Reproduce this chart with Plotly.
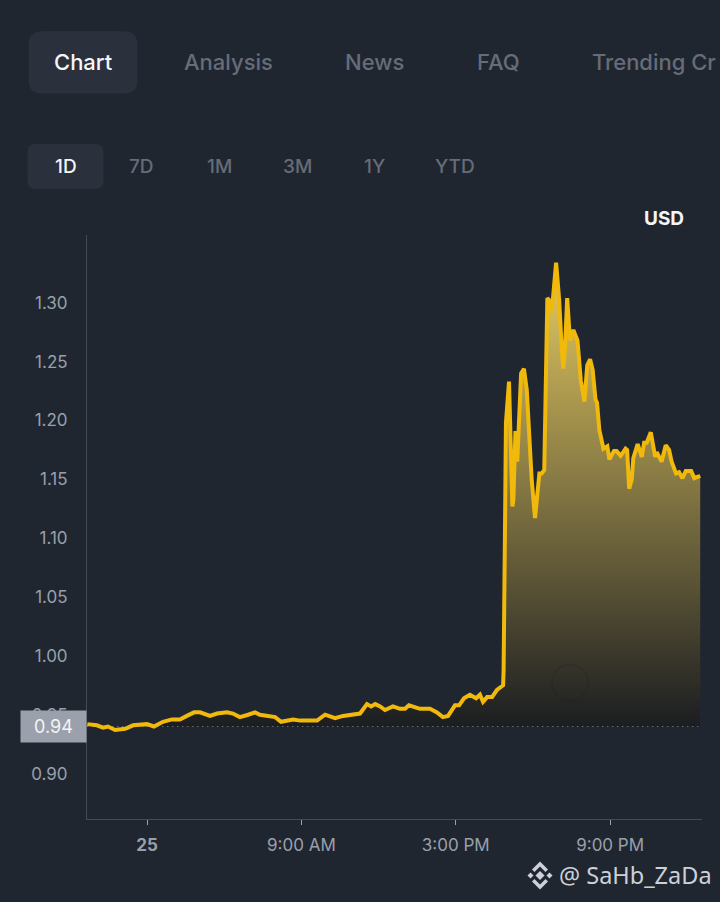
import numpy as np
import plotly.graph_objects as go

W, H = 720, 902
L, R, T, B = 87, 702, 235, 819.5
BG = '#202630'
PILL = '#2a303c'
LINE = '#f0b90b'
AXIS = '#444a56'
MUTED = '#666c78'
TICK = '#9aa0ab'

tabs = ['Chart', 'Analysis', 'News', 'FAQ', 'Trending Cr']
tab_x = [83, 228, 374, 498, 590]
ranges = ['1D', '7D', '1M', '3M', '1Y', 'YTD']
range_x = [66, 141, 219, 297, 374, 455]

y_ticks = [0.90, 0.95, 1.00, 1.05, 1.10, 1.15, 1.20, 1.25, 1.30]
x_ticks = [3, 9, 15, 21]
x_labels = ['<b>25</b>', '9:00 AM', '3:00 PM', '9:00 PM']
open_price = 0.94

# hours on the axis
hours = [0.68, 1.05, 1.29, 1.48, 1.76, 2.15, 2.46, 3.00, 3.27, 3.62, 3.97, 4.28, 4.55, 4.83,
         5.06, 5.45, 5.72, 6.11, 6.34, 6.61, 6.93, 7.20, 7.39, 7.98, 8.21, 8.68, 8.95, 9.61,
         9.92, 10.31, 10.62, 11.09, 11.28, 11.55, 11.71, 11.87, 12.06, 12.25, 12.56, 12.83,
         13.03, 13.18, 13.61, 14.00, 14.27, 14.50, 14.70, 14.97, 15.13, 15.32, 15.55, 15.79,
         15.94, 16.06, 16.22, 16.41, 16.60, 16.84, 16.86, 16.92, 16.95, 17.07, 17.18, 17.20,
         17.24, 17.32, 17.39, 17.54, 17.65, 17.76, 17.86, 17.95, 18.08, 18.15, 18.25, 18.34,
         18.44, 18.50, 18.56, 18.64, 18.73, 18.90, 19.02, 19.12, 19.18, 19.25, 19.33, 19.44,
         19.57, 19.73, 19.86, 20.00, 20.11, 20.22, 20.32, 20.43, 20.49, 20.58, 20.74, 20.89,
         20.97, 21.15, 21.25, 21.41, 21.60, 21.66, 21.74, 21.84, 21.90, 22.07, 22.23, 22.32,
         22.42, 22.58, 22.75, 22.81, 23.00, 23.16, 23.29, 23.39, 23.56, 23.68, 23.81, 23.94,
         24.15, 24.27, 24.50]

price = [0.942, 0.941, 0.939, 0.940, 0.937, 0.938, 0.941, 0.942, 0.940, 0.944, 0.946, 0.946, 0.949, 0.952,
         0.952, 0.949, 0.951, 0.952, 0.951, 0.948, 0.950, 0.952, 0.950, 0.948, 0.944, 0.946, 0.945, 0.945,
         0.950, 0.947, 0.949, 0.951, 0.951, 0.959, 0.957, 0.959, 0.957, 0.954, 0.957, 0.955,
         0.955, 0.958, 0.955, 0.955, 0.952, 0.948, 0.949, 0.958, 0.958, 0.964, 0.967, 0.964,
         0.967, 0.961, 0.965, 0.965, 0.971, 0.975, 0.988, 1.124, 1.198, 1.233, 1.161, 1.127,
         1.133, 1.191, 1.165, 1.240, 1.244, 1.226, 1.186, 1.150, 1.117, 1.135, 1.155, 1.155,
         1.158, 1.232, 1.304, 1.302, 1.292, 1.334, 1.302, 1.260, 1.244, 1.263, 1.304, 1.268,
         1.277, 1.268, 1.234, 1.216, 1.247, 1.252, 1.243, 1.218, 1.215, 1.192, 1.176, 1.178,
         1.167, 1.174, 1.174, 1.170, 1.176, 1.175, 1.142, 1.150, 1.168, 1.180, 1.169, 1.181,
         1.181, 1.190, 1.169, 1.173, 1.165, 1.179, 1.175, 1.165, 1.155, 1.156, 1.151, 1.157,
         1.157, 1.151, 1.153]


# page pixels to paper coordinates (paper is the plot area)
def px(x):
    return (x - L) / (R - L)


def py(y):
    return (B - y) / (B - T)


def rounded_rect(x0, y0, x1, y1, r):
    a = lambda x, y: f'{px(x):.5f} {py(y):.5f}'
    return (f'M {a(x0 + r, y0)} L {a(x1 - r, y0)} Q {a(x1, y0)} {a(x1, y0 + r)} '
            f'L {a(x1, y1 - r)} Q {a(x1, y1)} {a(x1 - r, y1)} '
            f'L {a(x0 + r, y1)} Q {a(x0, y1)} {a(x0, y1 - r)} '
            f'L {a(x0, y0 + r)} Q {a(x0, y0)} {a(x0 + r, y0)} Z')


def poly(points):
    return 'M ' + ' L '.join(f'{px(x):.5f} {py(y):.5f}' for x, y in points) + ' Z'


def paper_shape(path, color):
    return dict(type='path', xref='paper', yref='paper', layer='below', path=path,
                fillcolor=color, line=dict(width=0))


def label(text, x, y, size, color, anchor='center', weight=None, family='Inter'):
    return dict(text=text, xref='paper', yref='paper', x=px(x), y=py(y), showarrow=False,
                xanchor=anchor, yanchor='middle',
                font=dict(family=family, size=size, color=color, weight=weight))


fig = go.Figure()

# fill only sits above the opening price
fig.add_trace(go.Scatter(x=hours, y=[open_price] * len(hours), mode='lines',
                         line=dict(color='#8a8f99', width=1, dash='1px 4px'), hoverinfo='skip'))
fig.add_trace(go.Scatter(x=hours, y=np.maximum(price, open_price), mode='lines', line=dict(width=0),
                         fill='tonexty',
                         fillgradient=dict(type='vertical',
                                           colorscale=[[0, '#1b1d21'], [1, '#e6cb62']]),
                         hoverinfo='skip'))
fig.add_trace(go.Scatter(x=hours, y=price, mode='lines', line=dict(color=LINE, width=4)))

shapes = [
    paper_shape(rounded_rect(28.5, 31, 137.5, 93.5, 14), PILL),
    paper_shape(rounded_rect(27.5, 144, 103.5, 189, 8), PILL),
    # faint logo inside the area
    dict(type='circle', xref='paper', yref='paper', x0=px(552), x1=px(588), y0=py(701), y1=py(665),
         line=dict(color='rgba(30,32,38,0.2)', width=2)),
]

# exchange logo next to the handle
logo = '#ccd0d8'
shapes += [
    paper_shape(poly([(540, 871.5), (544.5, 876), (540, 880.5), (535.5, 876)]), logo),
    paper_shape(poly([(530.5, 873), (533.5, 876), (530.5, 879), (527.5, 876)]), logo),
    paper_shape(poly([(549.5, 873), (552.5, 876), (549.5, 879), (546.5, 876)]), logo),
    paper_shape(poly([(540, 862), (548, 870), (545.5, 872.5), (540, 867), (534.5, 872.5), (532, 870)]), logo),
    paper_shape(poly([(540, 890), (548, 882), (545.5, 879.5), (540, 885), (534.5, 879.5), (532, 882)]), logo),
]

annotations = []
for i, t in enumerate(tabs):
    anchor = 'left' if t == 'Trending Cr' else 'center'
    annotations.append(label(t, tab_x[i], 62, 22, '#f4f5f7' if i == 0 else MUTED, anchor=anchor, weight=500))
for i, t in enumerate(ranges):
    annotations.append(label(t, range_x[i], 166, 19, '#f4f5f7' if i == 0 else MUTED, weight=500))
annotations.append(label('USD', 664, 218, 19, '#f4f5f7', weight=700))
annotations.append(label('@ SaHb_ZaDa', 557, 876, 23.5, '#ccd0d8', anchor='left', family='Noto Sans'))

# current price tag over the axis labels
annotations.append(dict(text='0.94', xref='paper', yref='y', x=0, y=open_price, showarrow=False,
                        xanchor='right', yanchor='middle', width=63, height=29, bgcolor='#9aa0ac',
                        font=dict(family='Inter', size=18, color='#f4f5f7')))

fig.update_layout(
    width=W, height=H,
    margin=dict(l=L, r=W - R, t=T, b=H - B),
    paper_bgcolor=BG, plot_bgcolor=BG,
    showlegend=False,
    shapes=shapes,
    annotations=annotations,
    font=dict(family='Inter', size=17, color=TICK),
    xaxis=dict(range=[0.668, 24.57], tickmode='array', tickvals=x_ticks, ticktext=x_labels,
               showgrid=False, zeroline=False, showline=True, linecolor=AXIS, linewidth=1,
               ticks='outside', ticklen=5, tickcolor=TICK, tickwidth=1, ticklabelstandoff=6),
    yaxis=dict(range=[0.8614, 1.3576], tickmode='array', tickvals=y_ticks,
               ticktext=[f'{v:.2f}' for v in y_ticks],
               showgrid=False, zeroline=False, showline=True, linecolor=AXIS, linewidth=1,
               ticks='', ticklabelstandoff=15),
)

fig.write_html("out.html", config=dict(displayModeBar=False),
               post_script="document.body.style.margin='0';")
